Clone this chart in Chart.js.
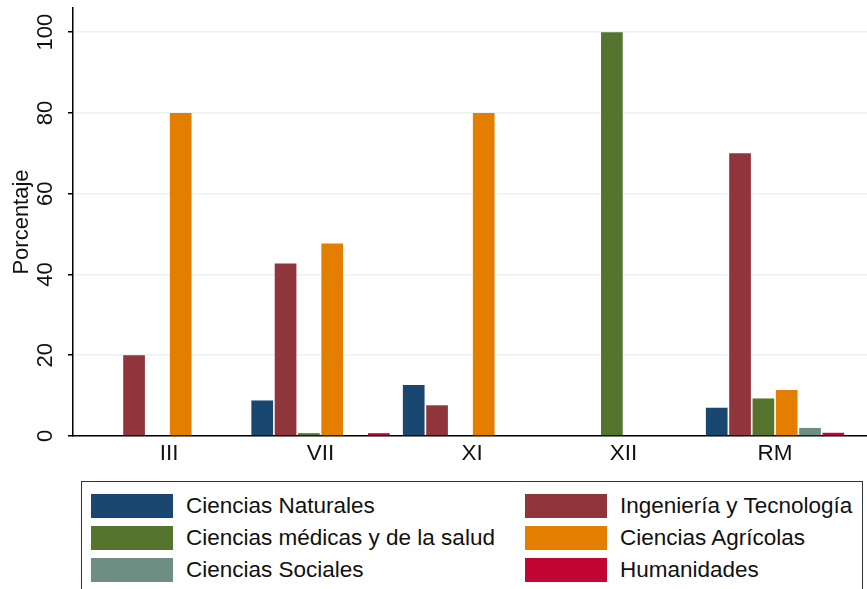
<!DOCTYPE html>
<html>
<head>
<meta charset="utf-8">
<script src="https://cdn.jsdelivr.net/npm/chart.js@4/dist/chart.umd.min.js"></script>
<style>
  body { margin: 0; background: #fff; font-family: "Liberation Sans", Arial, sans-serif; }
  #wrap { position: relative; width: 867px; height: 589px; }
  #legend {
    position: absolute; left: 81px; top: 481px; width: 780px; height: 104px;
    border: 1px solid #333; background: #fff;
    display: grid; grid-template-columns: 434px 1fr; grid-auto-rows: 32px;
    padding-top: 8px; box-sizing: content-box;
  }
  .item { display: flex; align-items: center; padding-left: 9px; font-size: 22.5px; color: #111; white-space: nowrap; }
  .sw { width: 82px; height: 24px; margin-right: 13px; flex: none; }
</style>
</head>
<body>
<div id="wrap">
  <canvas id="chart" width="867" height="589"></canvas>
  <div id="legend"></div>
</div>
<script>
const regions = ["III", "VII", "XI", "XII", "RM"];
const yTicks = [0, 20, 40, 60, 80, 100];

const naturales   = [0, 8.8, 12.6, 0, 7.0];
const ingenieria  = [20, 42.7, 7.6, 0, 70];
const medicas     = [0, 0.7, 0, 100, 9.3];
const agricolas   = [80, 47.7, 80, 0, 11.4];
const sociales    = [0, 0, 0, 0, 2.0];
const humanidades = [0, 0.7, 0, 0, 0.8];

const series = [
  { label: "Ciencias Naturales", data: naturales, color: "#1a476f" },
  { label: "Ingeniería y Tecnología", data: ingenieria, color: "#90353b" },
  { label: "Ciencias médicas y de la salud", data: medicas, color: "#55752f" },
  { label: "Ciencias Agrícolas", data: agricolas, color: "#e37e00" },
  { label: "Ciencias Sociales", data: sociales, color: "#6e8e84" },
  { label: "Humanidades", data: humanidades, color: "#c10534" }
];

const FONT = "'Liberation Sans', Arial, sans-serif";

const datasets = series.map(s => ({
  label: s.label,
  data: s.data.map((v, i) => ({ x: i, y: v })),
  backgroundColor: s.color,
  borderWidth: 0,
  categoryPercentage: 0.924,
  barPercentage: 0.93
}));

const chart = new Chart(document.getElementById("chart").getContext("2d"), {
  type: "bar",
  data: { datasets },
  options: {
    responsive: false,
    animation: false,
    layout: { padding: { top: 8, right: 0, left: 0, bottom: 0 } },
    plugins: { legend: { display: false }, tooltip: { enabled: false } },
    scales: {
      x: {
        type: "linear",
        offset: false,
        min: -0.634,
        max: 4.607,
        grid: { display: false, drawTicks: false },
        border: { color: "#000", width: 1.5 },
        afterBuildTicks: s => { s.ticks = regions.map((r, i) => ({ value: i })); },
        afterFit: s => { s.height = 153; s.paddingLeft = 0; s.paddingRight = 0; },
        ticks: {
          padding: 4,
          autoSkip: false,
          maxRotation: 0,
          color: "#111",
          font: { family: FONT, size: 22.5 },
          callback: v => regions[v]
        }
      },
      y: {
        min: 0,
        max: 106,
        afterBuildTicks: s => { s.ticks = yTicks.map(v => ({ value: v })); },
        afterFit: s => { s.width = 73; s.paddingTop = 0; s.paddingBottom = 0; },
        border: { color: "#000", width: 1.5 },
        grid: { color: "#eaf2f3", lineWidth: 1.5, tickColor: "#000", tickLength: 5 },
        ticks: {
          minRotation: 90,
          maxRotation: 90,
          crossAlign: "center",
          padding: 4,
          color: "#111",
          font: { family: FONT, size: 22 }
        },
        title: {
          display: true,
          text: "Porcentaje",
          color: "#111",
          padding: { top: 9, bottom: 0 },
          font: { family: FONT, size: 22 }
        }
      }
    }
  }
});

// legend laid out in two columns like the original
const legend = document.getElementById("legend");
chart.data.datasets.forEach(ds => {
  const item = document.createElement("div");
  item.className = "item";
  const sw = document.createElement("span");
  sw.className = "sw";
  sw.style.background = ds.backgroundColor;
  item.appendChild(sw);
  item.appendChild(document.createTextNode(ds.label));
  legend.appendChild(item);
});
</script>
</body>
</html>
